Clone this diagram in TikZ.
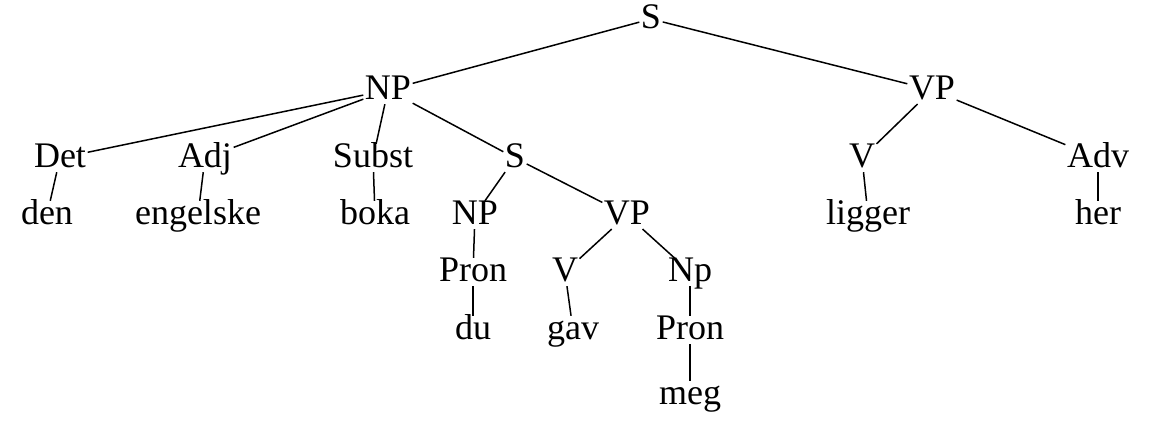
\documentclass[tikz,border=0pt]{standalone}
\usepackage{fontspec}
\setmainfont{Liberation Serif}
\begin{document}
\begin{tikzpicture}[x=1pt,y=-1pt,
  lab/.style={font=\fontsize{36}{40}\selectfont, inner sep=1pt, text height=22pt, text depth=3pt},
  edge/.style={line width=1.5pt, shorten >=0.5pt, shorten <=0.5pt}]
\useasboundingbox (0,0) rectangle (1151,444);
% row 1
\node[lab] (S) at (651,19) {S};
% row 2
\node[lab] (NP) at (388,90) {NP};
\node[lab] (VP) at (932,90) {VP};
% row 3
\node[lab] (Det) at (60,158) {Det};
\node[lab] (Adj) at (205,158) {Adj};
\node[lab] (Subst) at (373,158) {Subst};
\node[lab] (S2) at (515,158) {S};
\node[lab] (V) at (862,158) {V};
\node[lab] (Adv) at (1098,158) {Adv};
% row 4
\node[lab] (den) at (47,215) {den};
\node[lab] (engelske) at (198,215) {engelske};
\node[lab] (boka) at (375,215) {boka};
\node[lab] (NP2) at (475,215) {NP};
\node[lab] (VP2) at (627,215) {VP};
\node[lab] (ligger) at (868,215) {ligger};
\node[lab] (her) at (1098,215) {her};
% row 5
\node[lab] (Pron) at (473,272) {Pron};
\node[lab] (V2) at (565,272) {V};
\node[lab] (Np3) at (690,272) {Np};
% row 6
\node[lab] (du) at (473,330) {du};
\node[lab] (gav) at (573,330) {gav};
\node[lab] (Pron2) at (690,330) {Pron};
% row 7
\node[lab] (meg) at (690,395) {meg};
% edges
\draw[edge] (S) -- (NP);
\draw[edge] (S) -- (VP);
\draw[edge] (NP) -- (Det);
\draw[edge] (NP) -- (Adj);
\draw[edge] (NP) -- (Subst);
\draw[edge] (NP) -- (S2);
\draw[edge] (VP) -- (V);
\draw[edge] (VP) -- (Adv);
\draw[edge] (Det) -- (den);
\draw[edge] (Adj) -- (engelske);
\draw[edge] (Subst) -- (boka);
\draw[edge] (S2) -- (NP2);
\draw[edge] (S2) -- (VP2);
\draw[edge] (V) -- (ligger);
\draw[edge] (Adv) -- (her);
\draw[edge] (NP2) -- (Pron);
\draw[edge] (VP2) -- (V2);
\draw[edge] (VP2) -- (Np3);
\draw[edge] (Pron) -- (du);
\draw[edge] (V2) -- (gav);
\draw[edge] (Np3) -- (Pron2);
\draw[edge] (Pron2) -- (meg);
\end{tikzpicture}
\end{document}
